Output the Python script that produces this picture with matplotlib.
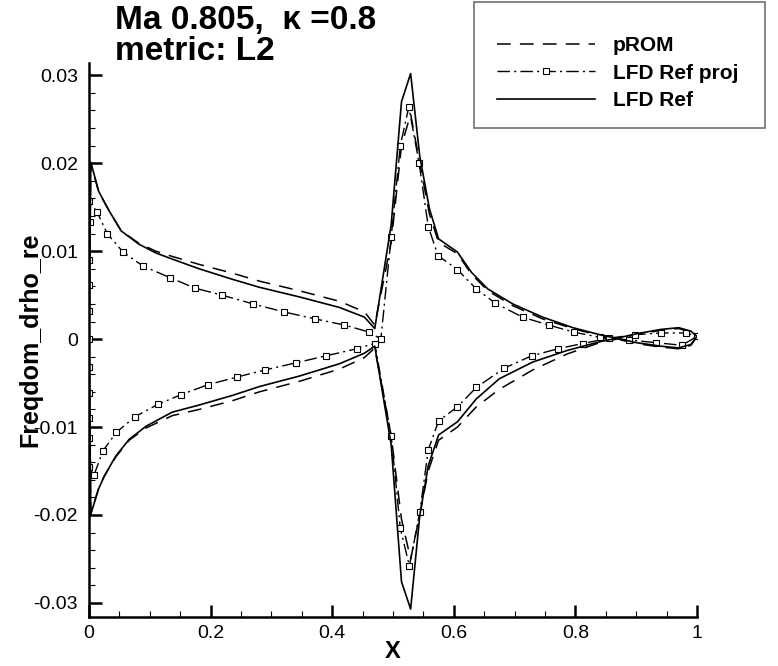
import matplotlib
matplotlib.use("Agg")
import matplotlib.pyplot as plt
from matplotlib.ticker import MultipleLocator, FuncFormatter
from matplotlib.patches import Rectangle
import numpy as np

plt.rcParams['font.family'] = ['Liberation Sans', 'DejaVu Sans']

# LFD Ref (solid), branch with positive leading-edge value, LE -> TE
ref_up_x = [0.0, 0.003, 0.016, 0.033, 0.053, 0.082, 0.11, 0.137, 0.181, 0.236, 0.28, 0.346, 0.412, 0.453, 0.470,
            0.497, 0.514, 0.529, 0.544, 0.560, 0.575, 0.606, 0.629, 0.656, 0.697, 0.746, 0.796, 0.840, 0.868,
            0.90, 0.94, 0.97, 0.99, 1.0]
ref_up_y = [0.0, 0.0201, 0.0168, 0.0146, 0.0123, 0.0108, 0.0098, 0.0091, 0.0080, 0.0068, 0.0059, 0.0048, 0.0036,
            0.0025, 0.0012, 0.013, 0.027, 0.0302, 0.0208, 0.0148, 0.0114, 0.0099, 0.0076, 0.0057, 0.0040, 0.0025,
            0.0013, 0.0005, 0.0001, -0.0004, -0.0008, -0.0010, -0.0006, 0.0003]
# LFD Ref, branch with negative leading-edge value
ref_lo_x = [0.0, 0.003, 0.016, 0.025, 0.044, 0.066, 0.094, 0.137, 0.181, 0.236, 0.28, 0.346, 0.412, 0.453, 0.470,
            0.497, 0.514, 0.529, 0.544, 0.558, 0.575, 0.606, 0.637, 0.675, 0.730, 0.786, 0.840, 0.868,
            0.90, 0.94, 0.97, 0.99, 1.0]
ref_lo_y = [0.0, -0.0199, -0.0170, -0.0156, -0.0133, -0.0114, -0.0099, -0.0083, -0.0075, -0.0064, -0.0054, -0.0042,
            -0.0028, -0.0016, -0.0008, -0.012, -0.0276, -0.0307, -0.0201, -0.0144, -0.0109, -0.0094, -0.0068,
            -0.0045, -0.0026, -0.0013, -0.0003, 0.0001, 0.0006, 0.0011, 0.0013, 0.0009, 0.0003]

# pROM (dashed), same grid as LFD Ref
rom_up_y = [0.0, 0.0200, 0.0167, 0.0146, 0.0123, 0.0109, 0.0100, 0.0094, 0.0085, 0.0075, 0.0066, 0.0055, 0.0043,
            0.0031, 0.0016, 0.011, 0.022, 0.0256, 0.0200, 0.0142, 0.0110, 0.0097, 0.0074, 0.0055, 0.0038, 0.0023,
            0.0012, 0.0004, 0.0000, -0.0005, -0.0009, -0.0011, -0.0007, 0.0003]
rom_lo_y = [0.0, -0.0198, -0.0169, -0.0156, -0.0134, -0.0115, -0.0101, -0.0087, -0.0080, -0.0070, -0.0060, -0.0048,
            -0.0034, -0.0021, -0.0010, -0.011, -0.0205, -0.0250, -0.0200, -0.0150, -0.0115, -0.0100, -0.0077,
            -0.0057, -0.0035, -0.0017, -0.0004, 0.0000, 0.0005, 0.0010, 0.0012, 0.0008, 0.0003]

# LFD Ref proj (dash-dot with squares)
proj_up_x = [0.0, 0.0, 0.0, 0.0, 0.001, 0.0, 0.013, 0.030, 0.056, 0.089, 0.133, 0.174, 0.219, 0.270, 0.32, 0.372,
             0.42, 0.461, 0.48, 0.497, 0.512, 0.526, 0.543, 0.558, 0.574, 0.606, 0.637, 0.668, 0.713, 0.756,
             0.797, 0.840, 0.888, 0.932, 0.975, 1.0]
proj_up_y = [0.0, 0.0032, 0.0062, 0.0090, 0.0133, 0.0157, 0.0145, 0.0120, 0.0099, 0.0083, 0.0070, 0.0058, 0.0050,
             0.0040, 0.0031, 0.0023, 0.0016, 0.0008, 0.0000, 0.0116, 0.0220, 0.0264, 0.0200, 0.0128, 0.0095,
             0.0079, 0.0057, 0.0041, 0.0025, 0.0016, 0.0008, 0.0002, -0.0001, -0.0004, -0.0007, 0.0003]
proj_lo_x = [0.0, 0.0, 0.0, 0.0, 0.0, 0.0, 0.008, 0.023, 0.045, 0.076, 0.114, 0.152, 0.195, 0.244, 0.29, 0.34,
             0.39, 0.44, 0.47, 0.497, 0.512, 0.527, 0.544, 0.558, 0.575, 0.606, 0.637, 0.683, 0.728, 0.771,
             0.812, 0.855, 0.898, 0.941, 0.982, 1.0]
proj_lo_y = [0.0, -0.0032, -0.0061, -0.0090, -0.0113, -0.0145, -0.0155, -0.0127, -0.0106, -0.0088, -0.0074,
             -0.0063, -0.0052, -0.0043, -0.0035, -0.0027, -0.0019, -0.0011, -0.0005, -0.011, -0.0215, -0.0258,
             -0.0197, -0.0126, -0.0093, -0.0077, -0.0055, -0.0033, -0.0019, -0.0011, -0.0005, 0.0001, 0.0005,
             0.0007, 0.0007, 0.0003]


def loop(xu, yu, xl, yl):
    # closed curve: TE -> LE along one branch, then LE -> TE along the other
    x = np.concatenate([np.array(xu)[::-1], np.array(xl)[1:]])
    y = np.concatenate([np.array(yu)[::-1], np.array(yl)[1:]])
    return x, y


fig = plt.figure(figsize=(7.78, 6.66), dpi=100)
ax = fig.add_axes([89 / 778, 49 / 666, 608 / 778, 554 / 666])

x, y = loop(ref_up_x, rom_up_y, ref_lo_x, rom_lo_y)
ax.plot(x, y, color='black', lw=1.1, linestyle=(0, (9, 6)), label='pROM')
x, y = loop(proj_up_x, proj_up_y, proj_lo_x, proj_lo_y)
ax.plot(x, y, color='black', lw=1.0, linestyle=(0, (9, 3, 1.5, 3)), marker='s', markersize=5,
        markerfacecolor='white', markeredgecolor='black', markeredgewidth=0.8, label='LFD Ref proj')
x, y = loop(ref_up_x, ref_up_y, ref_lo_x, ref_lo_y)
ax.plot(x, y, color='black', lw=1.2, linestyle='-', label='LFD Ref')

ax.set_xlim(0, 1)
ax.set_ylim(-0.0316, 0.0314)
ax.spines['top'].set_visible(False)
ax.spines['right'].set_visible(False)
ax.spines['left'].set_linewidth(1.8)
ax.spines['bottom'].set_linewidth(1.8)

ax.xaxis.set_major_locator(MultipleLocator(0.2))
ax.xaxis.set_minor_locator(MultipleLocator(0.05))
ax.yaxis.set_major_locator(MultipleLocator(0.01))
ax.yaxis.set_minor_locator(MultipleLocator(0.002))
fmt = FuncFormatter(lambda v, p: '%g' % round(v, 4))
ax.xaxis.set_major_formatter(fmt)
ax.yaxis.set_major_formatter(fmt)
ax.tick_params(which='major', direction='in', length=9, width=1.8, labelsize=14, pad=6)
ax.tick_params(which='minor', direction='in', length=4.5, width=0.8)
ax.tick_params(axis='y', which='major', pad=8)

fig.text(30 / 778, 1 - 340 / 666, 'Freqdom_drho_re', rotation=90, ha='center', va='center',
         fontsize=18, fontweight='bold')
fig.text(393 / 778, 1 - 651 / 666, 'X', ha='center', va='center', fontsize=17, fontweight='bold')
fig.text(115 / 778, 1 - 5 / 666, 'Ma 0.805,  \u03ba =0.8\nmetric: L2', ha='left', va='top',
         fontsize=24, fontweight='bold', linespacing=1.0)

fig.patches.append(Rectangle((474 / 778, 1 - 128 / 666), 291 / 778, 126 / 666, transform=fig.transFigure,
                             facecolor='none', edgecolor='#707070', lw=1.2, zorder=0))
leg = fig.legend(handles=ax.get_lines(), loc='upper left', bbox_to_anchor=(497 / 778, 1 - 36 / 666),
                 bbox_transform=fig.transFigure, frameon=False, prop={'weight': 'bold', 'size': 15},
                 handlelength=4.7, handletextpad=0.85, labelspacing=0.42, borderpad=0, borderaxespad=0)
leg.set_zorder(5)

fig.savefig('out.png', dpi=100)
